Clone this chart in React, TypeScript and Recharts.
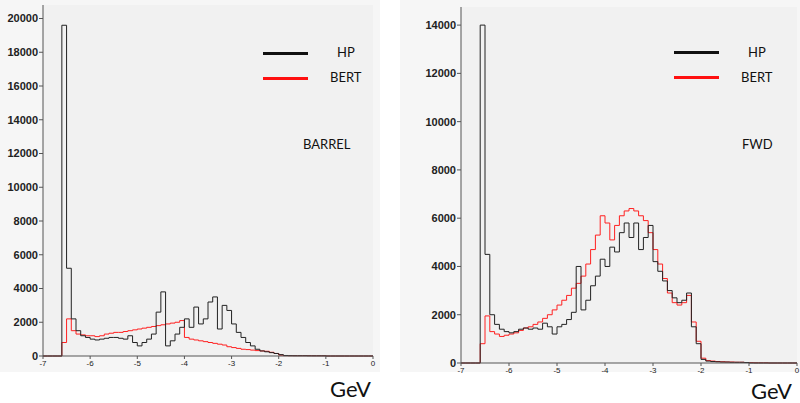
import React from "react";
import { LineChart, Line, XAxis, YAxis, CartesianGrid } from "recharts";

const binStarts = [-7,-6.9,-6.8,-6.7,-6.6,-6.5,-6.4,-6.3,-6.2,-6.1,-6,-5.9,-5.8,-5.7,-5.6,-5.5,-5.4,-5.3,-5.2,-5.1,-5,-4.9,-4.8,-4.7,-4.6,-4.5,-4.4,-4.3,-4.2,-4.1,-4,-3.9,-3.8,-3.7,-3.6,-3.5,-3.4,-3.3,-3.2,-3.1,-3,-2.9,-2.8,-2.7,-2.6,-2.5,-2.4,-2.3,-2.2,-2.1,-2,-1.9,-1.8,-1.7,-1.6,-1.5,-1.4,-1.3,-1.2,-1.1,-1,-0.9,-0.8,-0.7,-0.6,-0.5,-0.4,-0.3,-0.2,-0.1,0];

const barrelHP = [0,0,0,0,19600,5200,2200,1500,1200,1100,1000,950,1000,1050,1100,1100,1050,1000,1200,800,600,800,1000,1300,2600,3800,600,900,1300,1700,2200,1700,2900,1900,2200,3200,3500,1600,3000,2700,1900,1400,1100,800,600,400,300,250,200,150,80,30,20,15,15,15,10,10,10,10,0,0,0,0,0,0,0,0,0,0,0];
const barrelBERT = [0,0,0,0,800,2200,1500,1300,1250,1200,1200,1150,1200,1300,1350,1400,1400,1450,1500,1550,1600,1650,1700,1750,1800,1850,1900,1950,2000,2100,1100,1000,950,900,850,800,750,700,650,550,500,450,400,380,350,320,300,280,220,150,50,20,20,20,20,20,20,15,15,15,0,0,0,0,0,0,0,0,0,0,0];
const fwdHP = [0,0,0,0,14000,4500,2000,1600,1400,1300,1250,1300,1400,1450,1400,1450,1400,1650,1500,1200,1500,1600,1800,2100,4000,2200,2600,3200,3600,4300,4000,4800,4600,5400,5800,5200,5800,4700,5200,5700,4200,3800,3400,3000,2700,2500,2600,2900,1500,800,150,80,60,50,40,40,30,30,30,20,0,0,0,0,0,0,0,0,0,0,0];
const fwdBERT = [0,0,0,0,800,1950,1300,1200,1100,1150,1200,1250,1350,1450,1500,1600,1700,1850,2000,2200,2400,2600,2800,3100,3300,3600,4100,4700,5300,6100,5800,5100,5700,6100,6300,6400,6300,6100,5900,5400,4700,4100,3500,2900,2500,2400,2500,2800,1700,900,200,100,80,60,50,40,40,30,30,20,20,10,10,10,0,0,0,0,0,0,0];

const xTicks = [-7,-6,-5,-4,-3,-2,-1,0];
const barrelYTicks = [0,2000,4000,6000,8000,10000,12000,14000,16000,18000,20000];
const fwdYTicks = [0,2000,4000,6000,8000,10000,12000,14000];

const build = (hp: number[], bert: number[]) => binStarts.map((x, i) => ({ x, hp: hp[i], bert: bert[i] }));
const barrelData = build(barrelHP, barrelBERT);
const fwdData = build(fwdHP, fwdBERT);

const font = "Arial, 'Liberation Sans', sans-serif";

function Panel({ data, yTicks, yMax, left, width, height, yW, top, right }: any) {
  return (
    <div style={{ position: "absolute", left, top: 0 }}>
      <LineChart width={width} height={height} data={data} margin={{ top, right, left: 0, bottom: 0 }}>
        <CartesianGrid fill="#f1f1f1" stroke="none" />
        <XAxis dataKey="x" type="number" domain={[-7, 0]} ticks={xTicks} height={14} stroke="#555"
          tick={{ fontSize: 8, fill: "#222", fontFamily: font }} tickSize={3} tickMargin={1} interval={0} />
        <XAxis xAxisId="top" orientation="top" dataKey="x" type="number" domain={[-7, 0]} ticks={xTicks} height={0} tick={false} stroke="#555" />
        <YAxis type="number" domain={[0, yMax]} ticks={yTicks} width={yW} stroke="#555" interval={0}
          tick={{ fontSize: 11, fill: "#222", fontFamily: font, fontWeight: 600 }} tickSize={4} tickMargin={1} />
        <YAxis yAxisId="r" orientation="right" domain={[0, yMax]} ticks={yTicks} width={0} tick={false} stroke="#555" />
        <Line type="stepAfter" dataKey="bert" stroke="#ff2020" strokeWidth={1} dot={false} isAnimationActive={false} />
        <Line type="stepAfter" dataKey="hp" stroke="#222" strokeWidth={1} dot={false} isAnimationActive={false} />
      </LineChart>
    </div>
  );
}

const txt = (s: string, l: number, t: number, fs = 13) => (
  <div style={{ position: "absolute", left: l, top: t, fontSize: fs, fontFamily: "'Lato', 'Open Sans', sans-serif", color: "#111", lineHeight: 1 }}>{s}</div>
);
const seg = (l: number, t: number, c: string) => (
  <div style={{ position: "absolute", left: l, top: t, width: 45, height: 3, background: c }} />
);

export default function App() {
  return (
    <div style={{ position: "fixed", left: 0, top: 0, width: 800, height: 403, background: "#fff", overflow: "hidden" }}>
      <div style={{ position: "absolute", left: 0, top: 0, width: 380, height: 372, background: "#f6f6f6" }} />
      <div style={{ position: "absolute", left: 400, top: 0, width: 400, height: 372, background: "#f6f6f6" }} />
      <Panel data={barrelData} yTicks={barrelYTicks} yMax={20800} left={0} width={380} height={370} yW={43} top={5} right={7} />
      <Panel data={fwdData} yTicks={fwdYTicks} yMax={14750} left={400} width={400} height={377} yW={61} top={7} right={3} />
      {seg(263, 52, "#111")}{seg(263, 77, "#ff1010")}
      {txt("HP", 337, 46)}{txt("BERT", 330, 71)}{txt("BARREL", 303, 138)}
      {seg(674, 51, "#111")}{seg(674, 76, "#ff1010")}
      {txt("HP", 748, 46)}{txt("BERT", 741, 71)}{txt("FWD", 742, 138)}
      {txt("GeV", 330, 378, 22)}{txt("GeV", 751, 380, 22)}
    </div>
  );
}
